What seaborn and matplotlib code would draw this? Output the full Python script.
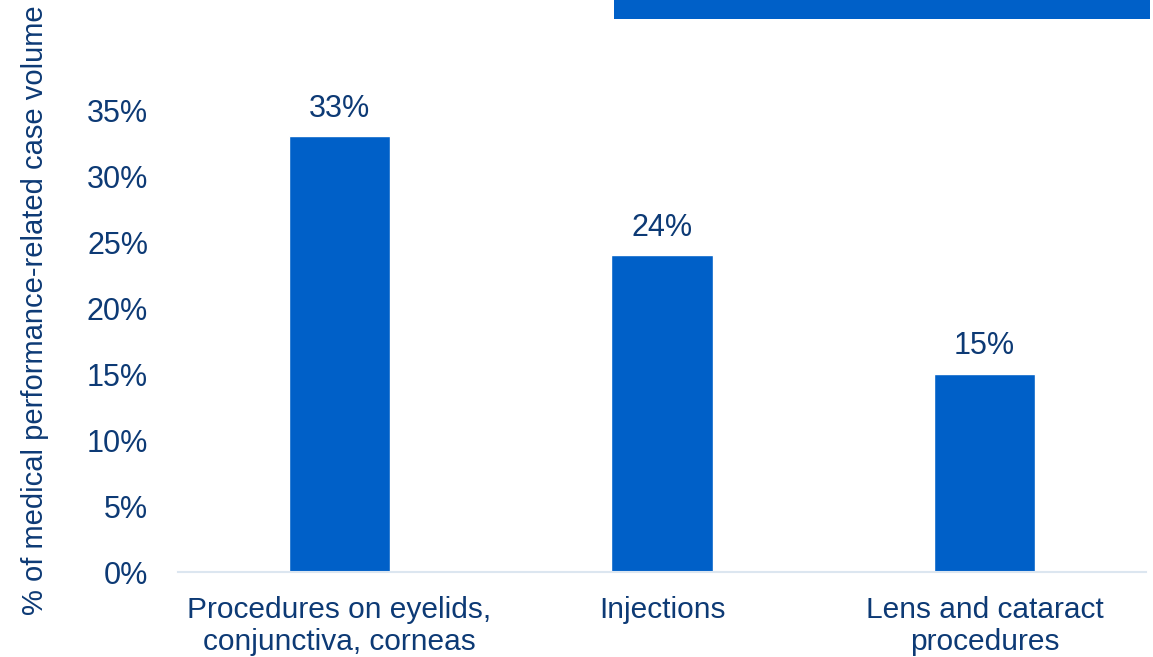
import matplotlib
matplotlib.use("Agg")
import matplotlib.pyplot as plt
from matplotlib.patches import Rectangle
from matplotlib.ticker import PercentFormatter
import seaborn as sns
import pandas as pd

categories = ["Procedures on eyelids,\nconjunctiva, corneas", "Injections", "Lens and cataract\nprocedures"]
shares = [0.33, 0.24, 0.15]
y_ticks = [0, 0.05, 0.10, 0.15, 0.20, 0.25, 0.30, 0.35]

BAR = "#0060C8"
TEXT = "#0D3A75"
AXIS = "#DCE6F0"

sns.set_theme(style="white")
plt.rcParams["font.family"] = ["Liberation Sans", "DejaVu Sans"]

df = pd.DataFrame({"category": categories, "share": shares})

fig = plt.figure(figsize=(11.53, 6.57), dpi=100)
ax = fig.add_axes([178 / 1153, 85 / 657, (1146 - 178) / 1153, (572 - 110) / 657])

sns.barplot(data=df, x="category", y="share", color=BAR, width=0.315,
            saturation=1, ax=ax)

ax.set_ylim(0, 0.35)
ax.set_yticks(y_ticks)
ax.yaxis.set_major_formatter(PercentFormatter(1.0, decimals=0))
ax.tick_params(axis="both", length=0, labelsize=22, labelcolor=TEXT)
ax.tick_params(axis="y", pad=21.5)
ax.tick_params(axis="x", pad=17)
for lbl in ax.get_xticklabels():
    lbl.set_linespacing(1.2)
    lbl.set_fontsize(21.5)

for side in ["top", "right", "left"]:
    ax.spines[side].set_visible(False)
ax.spines["bottom"].set_color(AXIS)
ax.spines["bottom"].set_linewidth(1.5)

ax.set_xlabel("")
ax.set_ylabel("% of medical performance-related case volume", fontsize=21,
              color=TEXT)
ax.yaxis.set_label_coords(-0.1333, 0.567)

for container in ax.containers:
    ax.bar_label(container, labels=[f"{v * 100:.0f}%" for v in shares],
                 padding=9, fontsize=22, color=TEXT, clip_on=False)

# Banner strip across the top right
fig.patches.append(Rectangle((614 / 1153, 1 - 19 / 657), (1150 - 614) / 1153, 19 / 657,
                             transform=fig.transFigure, facecolor=BAR,
                             edgecolor="none", zorder=5))

fig.savefig("out.png", dpi=100)
